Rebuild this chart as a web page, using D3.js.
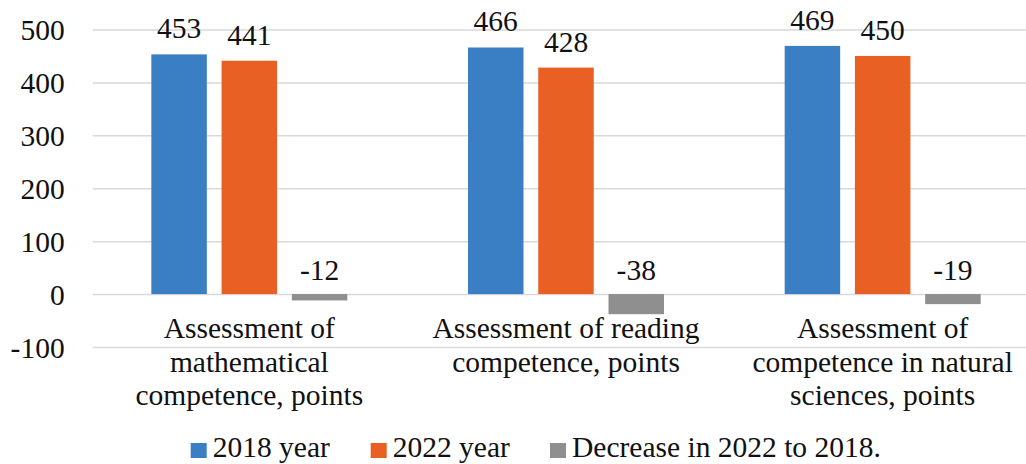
<!DOCTYPE html>
<html>
  <head>
    <meta charset="utf-8">
    <title>Assessment of competences, 2018 and 2022</title>
    <script src="https://d3js.org/d3.v7.min.js"></script>
    <style>
      body { margin: 0; background: #fff; }
      svg { display: block; }
      .grid line { stroke: #d9d9d9; stroke-width: 1.5; }
      .grid text, .label { font-family: "Liberation Serif", "Times New Roman", serif; font-size: 29.5px; fill: #111; }
    </style>
  </head>
  <body>
    <svg id="chart" width="1026" height="464"></svg>
    <script>
      // data
      var categories = [
        ["Assessment of", "mathematical", "competence, points"],
        ["Assessment of reading", "competence, points"],
        ["Assessment of", "competence in natural", "sciences, points"]
      ];
      var seriesNames = ["2018 year", "2022 year", "Decrease in 2022 to 2018."];
      var values2018 = [453, 466, 469];
      var values2022 = [441, 428, 450];
      var decrease = [-12, -38, -19];
      var yTicks = [-100, 0, 100, 200, 300, 400, 500];
      var colours = ["#3a7fc3", "#e86024", "#8f8f8f"];

      var chart = d3.select("#chart");
      var margin = { left: 91, right: -15, top: 29.5, bottom: 117 };
      var width = 1026, height = 464;

      var x0 = d3.scaleBand()
        .domain(d3.range(categories.length))
        .range([margin.left, width - margin.right]);
      var x1 = d3.scaleBand()
        .domain(d3.range(seriesNames.length))
        .range([-98, 98])
        .paddingInner(0.21);
      var y = d3.scaleLinear()
        .domain([-100, 500])
        .range([height - margin.bottom, margin.top]);

      // grid + y labels
      var yAxis = d3.axisLeft(y)
        .tickValues(yTicks)
        .tickSize(-(width - 92.7))
        .tickPadding(28)
        .tickFormat(function(d) { return String(d); });
      chart.append("g")
        .attr("class", "grid")
        .attr("transform", "translate(92.7, 0)")
        .call(yAxis)
        .attr("font-family", null)
        .attr("font-size", null)
        .call(function(g) { g.select(".domain").remove(); })
        .selectAll("text")
          .attr("dy", "0.35em");

      var rows = [values2018, values2022, decrease];
      var bars = [];
      rows.forEach(function(vals, s) {
        vals.forEach(function(v, c) {
          bars.push({ c: c, s: s, v: v });
        });
      });

      chart.append("g")
        .selectAll("rect")
        .data(bars)
        .enter().append("rect")
          .attr("x", function(d) { return x0(d.c) + x0.bandwidth() / 2 + x1(d.s); })
          .attr("width", x1.bandwidth())
          .attr("y", function(d) { return y(Math.max(0, d.v)); })
          .attr("height", function(d) { return Math.abs(y(d.v) - y(0)); })
          .attr("fill", function(d) { return colours[d.s]; });

      chart.append("g")
        .selectAll("text")
        .data(bars)
        .enter().append("text")
          .attr("class", "label")
          .attr("text-anchor", "middle")
          .attr("x", function(d) { return x0(d.c) + x0.bandwidth() / 2 + x1(d.s) + x1.bandwidth() / 2; })
          .attr("y", function(d) { return d.v >= 0 ? y(d.v) - 16 : y(0) - 14; })
          .text(function(d) { return d.v; });

      // category labels
      var catGroup = chart.append("g");
      categories.forEach(function(lines, c) {
        var t = catGroup.append("text")
          .attr("class", "label")
          .attr("text-anchor", "middle")
          .attr("x", x0(c) + x0.bandwidth() / 2)
          .attr("y", y(0) + 44);
        lines.forEach(function(line, i) {
          t.append("tspan")
            .attr("x", x0(c) + x0.bandwidth() / 2)
            .attr("dy", i === 0 ? 0 : 33.5)
            .text(line);
        });
      });

      // legend
      var legendX = [190.7, 370.7, 550];
      var legend = chart.append("g")
        .selectAll("g")
        .data(seriesNames)
        .enter().append("g")
          .attr("transform", function(d, i) { return "translate(" + legendX[i] + ", 443)"; });
      legend.append("rect")
        .attr("width", 16)
        .attr("height", 15)
        .attr("fill", function(d, i) { return colours[i]; });
      legend.append("text")
        .attr("class", "label")
        .attr("x", 22)
        .attr("y", 14)
        .text(function(d) { return d; });
    </script>
  </body>
</html>
